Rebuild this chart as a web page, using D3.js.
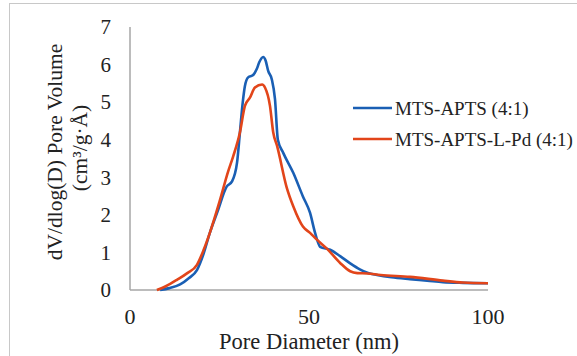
<!DOCTYPE html>
<html>
<head>
<meta charset="utf-8">
<script src="https://cdn.jsdelivr.net/npm/d3@7"></script>
<style>
  html, body { margin: 0; padding: 0; background: #fff; }
  svg { display: block; }
  text { font-family: "Liberation Serif", "DejaVu Serif", serif; }
</style>
</head>
<body>
<div id="chart"></div>
<script>
// Pore size distribution
const xTicks = [0, 50, 100];
const yTicks = [0, 1, 2, 3, 4, 5, 6, 7];

const blueX = [8.4, 11, 14, 16.5, 18.7, 20.5, 22.3, 24.5, 27, 28.5, 29.9, 30.7, 31.5, 32.1, 33, 34.4, 35.4, 36.1, 37.2, 37.9, 38.6, 39.6, 40.5, 41.3, 42.8, 45.6, 48.3, 50.3, 51.7, 53.1, 55.9, 58.7, 61.5, 64.2, 66.5, 69, 73, 78.2, 83, 87.4, 93, 100];
const blueY = [0, 0.05, 0.15, 0.32, 0.53, 0.95, 1.52, 2.1, 2.75, 2.89, 3.39, 4.19, 5.0, 5.43, 5.66, 5.72, 5.88, 6.06, 6.2, 6.1, 5.83, 5.61, 5.08, 4.0, 3.65, 3.12, 2.49, 2.05, 1.52, 1.15, 1.07, 0.9, 0.71, 0.55, 0.45, 0.4, 0.34, 0.29, 0.25, 0.21, 0.19, 0.18];

const orangeX = [7.5, 10, 13.1, 16, 18.7, 20.5, 22.3, 25, 27.4, 28.8, 30.7, 32.1, 33.5, 34.9, 36.9, 37.7, 39.1, 40, 41.1, 43.8, 45.6, 48.3, 50.3, 52.2, 55, 58.7, 61.5, 63.5, 66.2, 70, 78.2, 87.4, 93, 100];
const orangeY = [0, 0.1, 0.27, 0.45, 0.67, 1.05, 1.52, 2.35, 3.15, 3.55, 4.19, 4.9, 5.12, 5.39, 5.47, 5.39, 4.9, 4.2, 3.83, 2.72, 2.23, 1.69, 1.52, 1.34, 1.1, 0.72, 0.5, 0.45, 0.44, 0.4, 0.35, 0.25, 0.2, 0.18];

const seriesNames = ['MTS-APTS (4:1)', 'MTS-APTS-L-Pd (4:1)'];
const seriesColors = ['#1a5fb4', '#e2451a'];

const width = 577, height = 356;
const serif = '"Liberation Serif", "DejaVu Serif", serif';
const svg = d3.select('#chart').append('svg')
  .attr('width', width)
  .attr('height', height)
  .attr('font-family', serif);

// outer frame
svg.append('rect')
  .attr('x', 9.5).attr('y', 3.5)
  .attr('width', width).attr('height', height)
  .attr('fill', 'none')
  .attr('stroke', '#c8c8c8')
  .attr('stroke-width', 1);

const x = d3.scaleLinear().domain([0, 100]).range([130, 488]);
const y = d3.scaleLinear().domain([0, 7]).range([290, 27]);

// axes (no ticks, Excel style)
const axisColor = '#a6a6a6';
svg.append('line')
  .attr('x1', x(0)).attr('x2', x(0))
  .attr('y1', y(7)).attr('y2', y(0))
  .attr('stroke', axisColor).attr('stroke-width', 1.5);
svg.append('line')
  .attr('x1', x(0)).attr('x2', x(100))
  .attr('y1', y(0)).attr('y2', y(0))
  .attr('stroke', axisColor).attr('stroke-width', 1.5);

// tick labels
svg.append('g').selectAll('text')
  .data(yTicks)
  .join('text')
  .attr('x', 111)
  .attr('y', d => y(d))
  .attr('dy', '0.35em')
  .attr('text-anchor', 'end')
  .attr('font-family', serif)
  .attr('font-size', 21)
  .attr('fill', '#222')
  .text(d => d);

svg.append('g').selectAll('text')
  .data(xTicks)
  .join('text')
  .attr('x', d => x(d))
  .attr('y', 324)
  .attr('text-anchor', 'middle')
  .attr('font-family', serif)
  .attr('font-size', 22)
  .attr('fill', '#222')
  .text(d => d);

// axis titles
svg.append('text')
  .attr('x', 309).attr('y', 349)
  .attr('text-anchor', 'middle')
  .attr('font-family', serif)
  .attr('font-size', 22.5)
  .attr('fill', '#222')
  .text('Pore Diameter (nm)');

const yTitle = svg.append('g')
  .attr('transform', 'translate(62,152) rotate(-90)');
yTitle.append('text')
  .attr('x', 0).attr('y', 0)
  .attr('text-anchor', 'middle')
  .attr('font-family', serif)
  .attr('font-size', 21.5)
  .attr('fill', '#222')
  .text('dV/dlog(D) Pore Volume');
yTitle.append('text')
  .attr('x', 4).attr('y', 25)
  .attr('text-anchor', 'middle')
  .attr('font-family', serif)
  .attr('font-size', 21.5)
  .attr('fill', '#222')
  .text('(cm³/g·Å)');

// curves
const line = d3.line()
  .x(d => x(d[0]))
  .y(d => y(d[1]))
  .curve(d3.curveMonotoneX);

const series = [
  d3.zip(blueX, blueY),
  d3.zip(orangeX, orangeY)
];

svg.append('g').selectAll('path')
  .data(series)
  .join('path')
  .attr('d', d => line(d))
  .attr('fill', 'none')
  .attr('stroke', (d, i) => seriesColors[i])
  .attr('stroke-width', 2.6)
  .attr('stroke-linejoin', 'round');

// legend
const legend = svg.append('g').selectAll('g')
  .data(seriesNames)
  .join('g')
  .attr('transform', (d, i) => `translate(353,${108 + i * 31})`);
legend.append('line')
  .attr('x1', 0).attr('x2', 39)
  .attr('stroke', (d, i) => seriesColors[i])
  .attr('stroke-width', 2.6);
legend.append('text')
  .attr('x', 42)
  .attr('dy', '0.35em')
  .attr('font-family', serif)
  .attr('font-size', 19)
  .attr('fill', '#222')
  .text(d => d);
</script>
</body>
</html>
